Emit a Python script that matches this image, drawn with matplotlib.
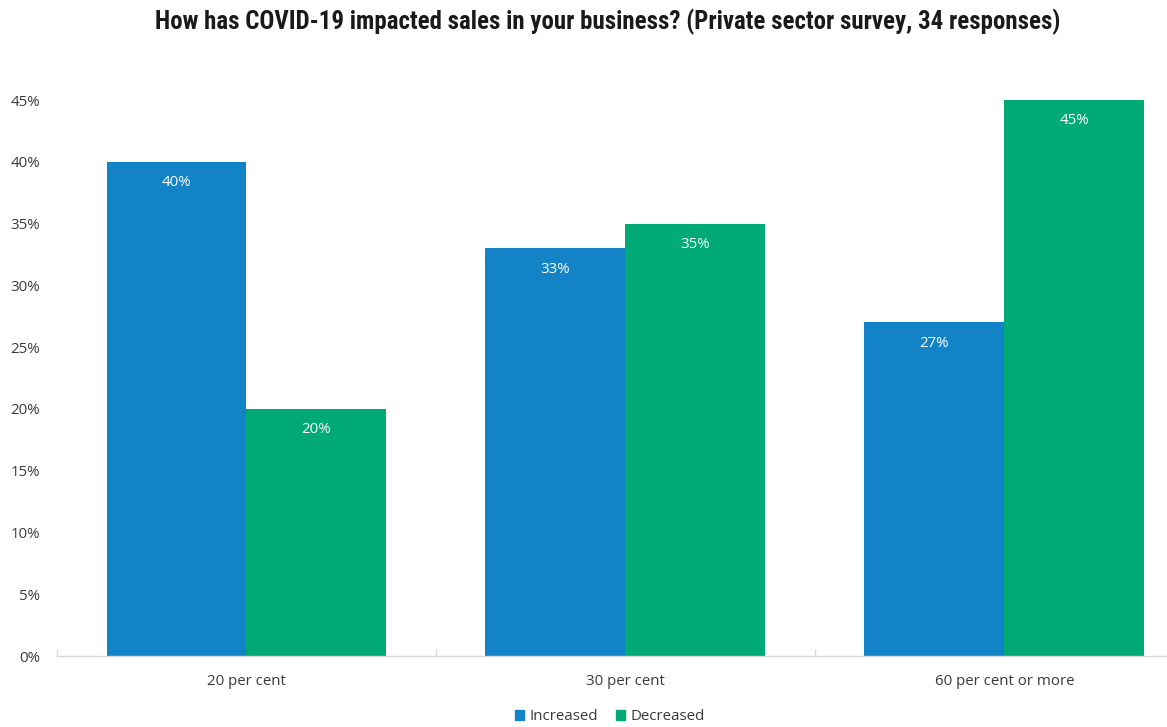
import matplotlib
matplotlib.use("Agg")
import matplotlib.pyplot as plt
from matplotlib.patches import Patch
import numpy as np

categories = ["20 per cent", "30 per cent", "60 per cent or more"]
increased = [40, 33, 27]
decreased = [20, 35, 45]
series_names = ["Increased", "Decreased"]
yticks = [0, 5, 10, 15, 20, 25, 30, 35, 40, 45]
title = "How has COVID-19 impacted sales in your business? (Private sector survey, 34 responses)"

blue = "#1283C6"
green = "#00AA75"
text_grey = "#3a3a3a"

plt.rcParams["font.family"] = ["Open Sans", "DejaVu Sans"]

W, H = 1167, 727
fig = plt.figure(figsize=(W / 100, H / 100), dpi=100)
ax = fig.add_axes([57 / W, (H - 656) / H, 1137 / W, 556 / H])

x = np.arange(len(categories))
bw = 140 / 379
b1 = ax.bar(x - bw / 2, increased, bw, color=blue, label=series_names[0])
b2 = ax.bar(x + bw / 2, decreased, bw, color=green, label=series_names[1])

for bars, vals in ((b1, increased), (b2, decreased)):
    for rect, v in zip(bars, vals):
        ax.annotate(f"{v}%", (rect.get_x() + rect.get_width() / 2, v),
                    xytext=(0, -21), textcoords="offset pixels",
                    ha="center", va="center", color="white", fontsize=10.8)

ax.set_xlim(-0.5, 2.5)
ax.set_ylim(0, 45)
ax.set_yticks(yticks)
ax.set_yticklabels([f"{t}%" for t in yticks], fontsize=10.8, color=text_grey)
ax.tick_params(axis="y", length=0, pad=12)

ax.set_xticks(x)
ax.set_xticklabels(categories, fontsize=10.8, color=text_grey)
ax.tick_params(axis="x", length=0, pad=13)
ax.set_xticks([-0.5, 0.5, 1.5, 2.5], minor=True)
ax.tick_params(axis="x", which="minor", length=5, direction="in", color="#D9D9D9", width=1)

for side in ("top", "right", "left"):
    ax.spines[side].set_visible(False)
ax.spines["bottom"].set_color("#D9D9D9")
ax.spines["bottom"].set_linewidth(1)

fig.text(608 / W, 1 - 22 / H, title, ha="center", va="center",
         fontsize=17.9, fontweight="bold", family=["Roboto Condensed", "DejaVu Sans"],
         color="#1a1a1a")

handles = [Patch(color=blue, label=series_names[0]), Patch(color=green, label=series_names[1])]
fig.legend(handles=handles, loc="center", bbox_to_anchor=(610 / W, 1 - 717 / H), ncol=2,
           frameon=False, fontsize=10.8, handlelength=0.6, handleheight=0.6,
           handletextpad=0.35, columnspacing=1.2, labelcolor=text_grey)

fig.savefig("out.png", dpi=100)
